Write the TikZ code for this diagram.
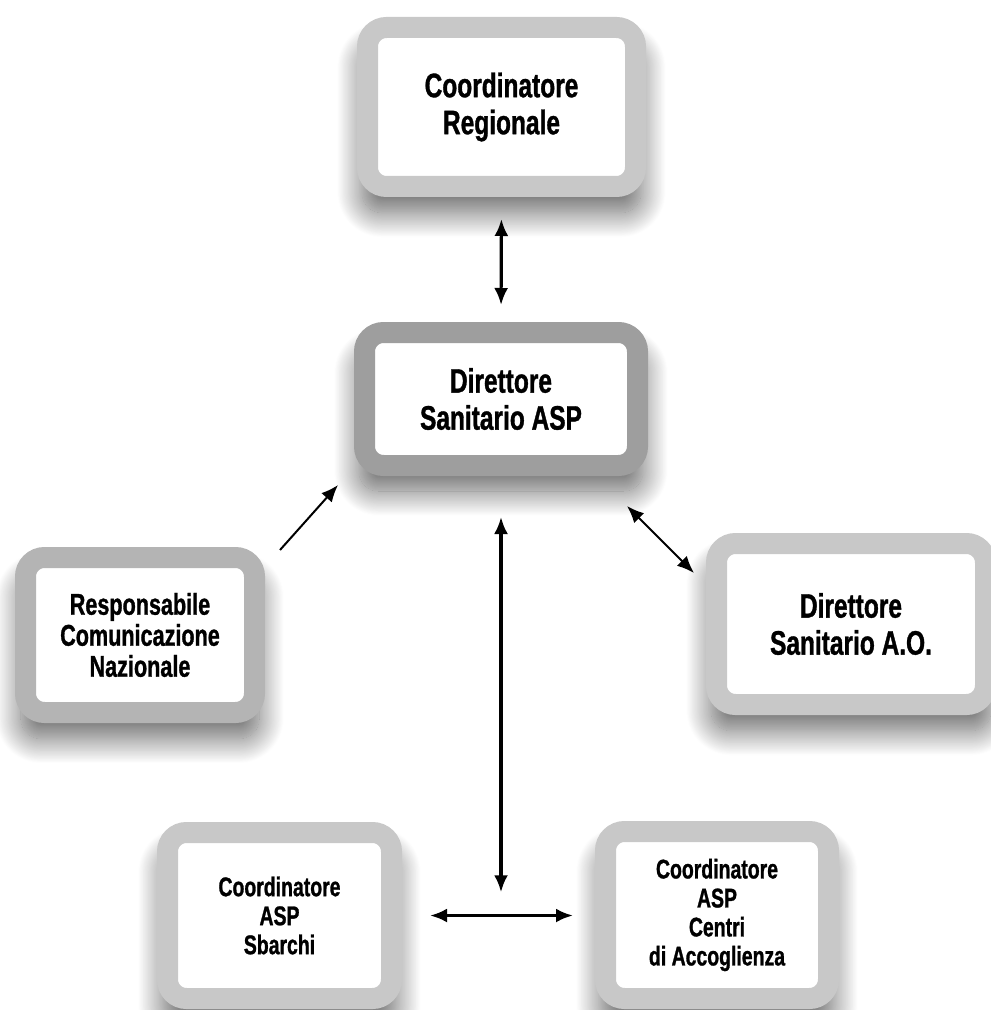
\documentclass[tikz,border=0pt]{standalone}
\usepackage{fontspec}
\setmainfont{Liberation Sans}[FakeStretch=0.72,FakeBold=1.0]
\usepackage{tikz}
\usetikzlibrary{arrows.meta}
\usetikzlibrary{calc}
\usetikzlibrary{shadows.blur}
\definecolor{boxlight}{RGB}{200,200,200}
\definecolor{boxmid}{RGB}{180,180,180}
\definecolor{boxdark}{RGB}{158,158,158}
\newcommand{\onode}[4]{\node(#1)[box,#2] at (#3) {#4}}

\begin{document}
\begin{tikzpicture}[
        x=0.5pt, y=-0.5pt,
        every node/.style={font=\bfseries},
        box/.style={rectangle,rounded corners=9.5pt,line width=10.5pt,
                    draw=boxlight,fill=white,align=center,inner sep=0pt,
                    blur shadow={shadow xshift=0pt,shadow yshift=-11pt,
                                 shadow scale=1.04,shadow blur radius=12pt,
                                 shadow blur steps=30,shadow opacity=60}},
        big/.style={font=\bfseries\fontsize{17pt}{18.5pt}\selectfont},
        mid/.style={font=\bfseries\fontsize{15pt}{15.5pt}\selectfont},
        small/.style={font=\bfseries\fontsize{13.5pt}{14.5pt}\selectfont},
        link/.style={line width=1.6pt,{Latex[length=8.5pt,width=7pt]}-{Latex[length=8.5pt,width=7pt]}},
        thin link/.style={line width=1pt}
      ]
      \useasboundingbox (0,0) rectangle (990,1010);

      \onode{coordreg}{big,minimum width=134pt,minimum height=79.5pt}{501.5,107}{Coordinatore\\Regionale};
      \onode{dirasp}{big,draw=boxdark,minimum width=136.5pt,minimum height=66.5pt}{501,399}{Direttore\\Sanitario ASP};
      \onode{respcom}{mid,draw=boxmid,minimum width=114.5pt,minimum height=77.5pt}{140,635}{Responsabile\\Comunicazione\\Nazionale};
      \onode{dirao}{big,minimum width=134.5pt,minimum height=80.5pt}{851,624}{Direttore\\Sanitario A.O.};
      \onode{sbarchi}{small,minimum width=112pt,minimum height=83pt}{279.5,915.5}{Coordinatore\\ASP\\Sbarchi};
      \onode{centri}{small,minimum width=111.5pt,minimum height=83.5pt}{717,915}{Coordinatore\\ASP\\Centri\\di Accoglienza};

      \coordinate (mid) at ($(sbarchi.east)!0.5!(centri.west)$);

      \draw[link,shorten <=11pt,shorten >=8.5pt] (coordreg.south) -- (dirasp.north);
      \draw[link,shorten <=20.5pt,shorten >=11.5pt] (dirasp.south) -- (dirasp.south |- mid);
      \draw[link,shorten <=14pt,shorten >=11pt] (sbarchi.east) -- (sbarchi.east -| centri.west);
      \draw[link,thin link,-{Latex[length=8.5pt,width=7pt]}] ([xshift=7.5pt,yshift=-1.5pt]respcom.north east) -- ([xshift=-8pt,yshift=-4.5pt]dirasp.south west);
      \draw[link,thin link] ([xshift=-10.5pt,yshift=-15pt]dirasp.south east) -- ([xshift=-6pt,yshift=-20pt]dirao.north west);
    \end{tikzpicture}
\end{document}
